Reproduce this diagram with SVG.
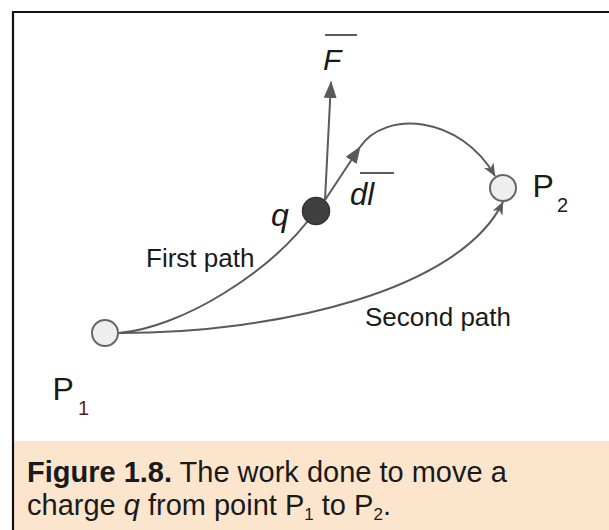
<svg xmlns="http://www.w3.org/2000/svg" width="609" height="530" viewBox="0 0 609 530">
  <style>
    .conn { fill: none; stroke: #5a5a5a; stroke-width: 2; }
    .pt { fill: #eeeeee; stroke: #666666; stroke-width: 2; }
    .lbl { font-family: "Liberation Sans", Arial, sans-serif; fill: #1a1a1a; }
    .it { font-style: italic; }
    .bar { stroke: #5a5a5a; stroke-width: 2; }
  </style>
  <defs>
    <marker id="head" viewBox="0 0 17 13" refX="16" refY="6.5" markerWidth="17" markerHeight="13" markerUnits="userSpaceOnUse" orient="auto">
      <path d="M0,0 L17,6.5 L0,13 Z" fill="#5a5a5a"/>
    </marker>
    <marker id="barb" viewBox="0 0 13 11" refX="12.5" refY="5.5" markerWidth="13" markerHeight="11" markerUnits="userSpaceOnUse" orient="auto">
      <path d="M0,0 L13,5.5 L0,11 L3.5,5.5 Z" fill="#5a5a5a"/>
    </marker>
  </defs>

  <rect x="0" y="0" width="609" height="530" fill="#ffffff"/>
  <rect x="14" y="441" width="595" height="89" fill="#fce5cd"/>
  <path d="M13,530 V12 H609" fill="none" stroke="#111111" stroke-width="2.2"/>

  <g id="connectors">
    <path class="conn" d="M119,333 C180,328 272,273 316,210"/>
    <path class="conn" d="M119,333 C280,333 460,290 503,202" marker-end="url(#barb)"/>
    <path class="conn" d="M325,200 L331,82" marker-end="url(#head)"/>
    <path class="conn" d="M325,200 L360,147" marker-end="url(#head)"/>
    <path class="conn" d="M360,147 C385,110 460,115 495,176" marker-end="url(#barb)"/>
  </g>

  <g id="P1">
    <circle class="pt" cx="105" cy="333" r="13"/>
    <text class="lbl" x="52.5" y="400" font-size="32">P</text>
    <text class="lbl" x="78" y="415" font-size="20" style="fill:#5a1c1c">1</text>
  </g>

  <g id="P2">
    <circle class="pt" cx="503" cy="188" r="13"/>
    <text class="lbl" x="532.5" y="197" font-size="32">P</text>
    <text class="lbl" x="557" y="212" font-size="20">2</text>
  </g>

  <g id="q">
    <circle cx="316" cy="211" r="13.5" fill="#404040" stroke="#333333" stroke-width="1.5"/>
    <text class="lbl it" x="271" y="226" font-size="32">q</text>
  </g>

  <g id="F">
    <text class="lbl it" x="323" y="70" font-size="30">F</text>
    <line class="bar" x1="325" y1="35" x2="357" y2="35"/>
  </g>

  <g id="dl">
    <text class="lbl it" x="350" y="205" font-size="31">dl</text>
    <line class="bar" x1="360" y1="173" x2="394" y2="173"/>
  </g>

  <g id="labels">
    <text class="lbl" x="146" y="267" font-size="26">First path</text>
    <text class="lbl" x="365" y="326" font-size="26">Second path</text>
  </g>

  <g id="caption">
    <text class="lbl" x="27" y="482" font-size="29"><tspan font-weight="bold">Figure 1.8.</tspan> The work done to move a</text>
    <text class="lbl" x="27" y="515" font-size="29">charge <tspan font-style="italic">q</tspan> from point P<tspan font-size="17" dy="5">1</tspan><tspan dy="-5"> to P</tspan><tspan font-size="17" dy="5">2</tspan><tspan dy="-5">.</tspan></text>
  </g>
</svg>
